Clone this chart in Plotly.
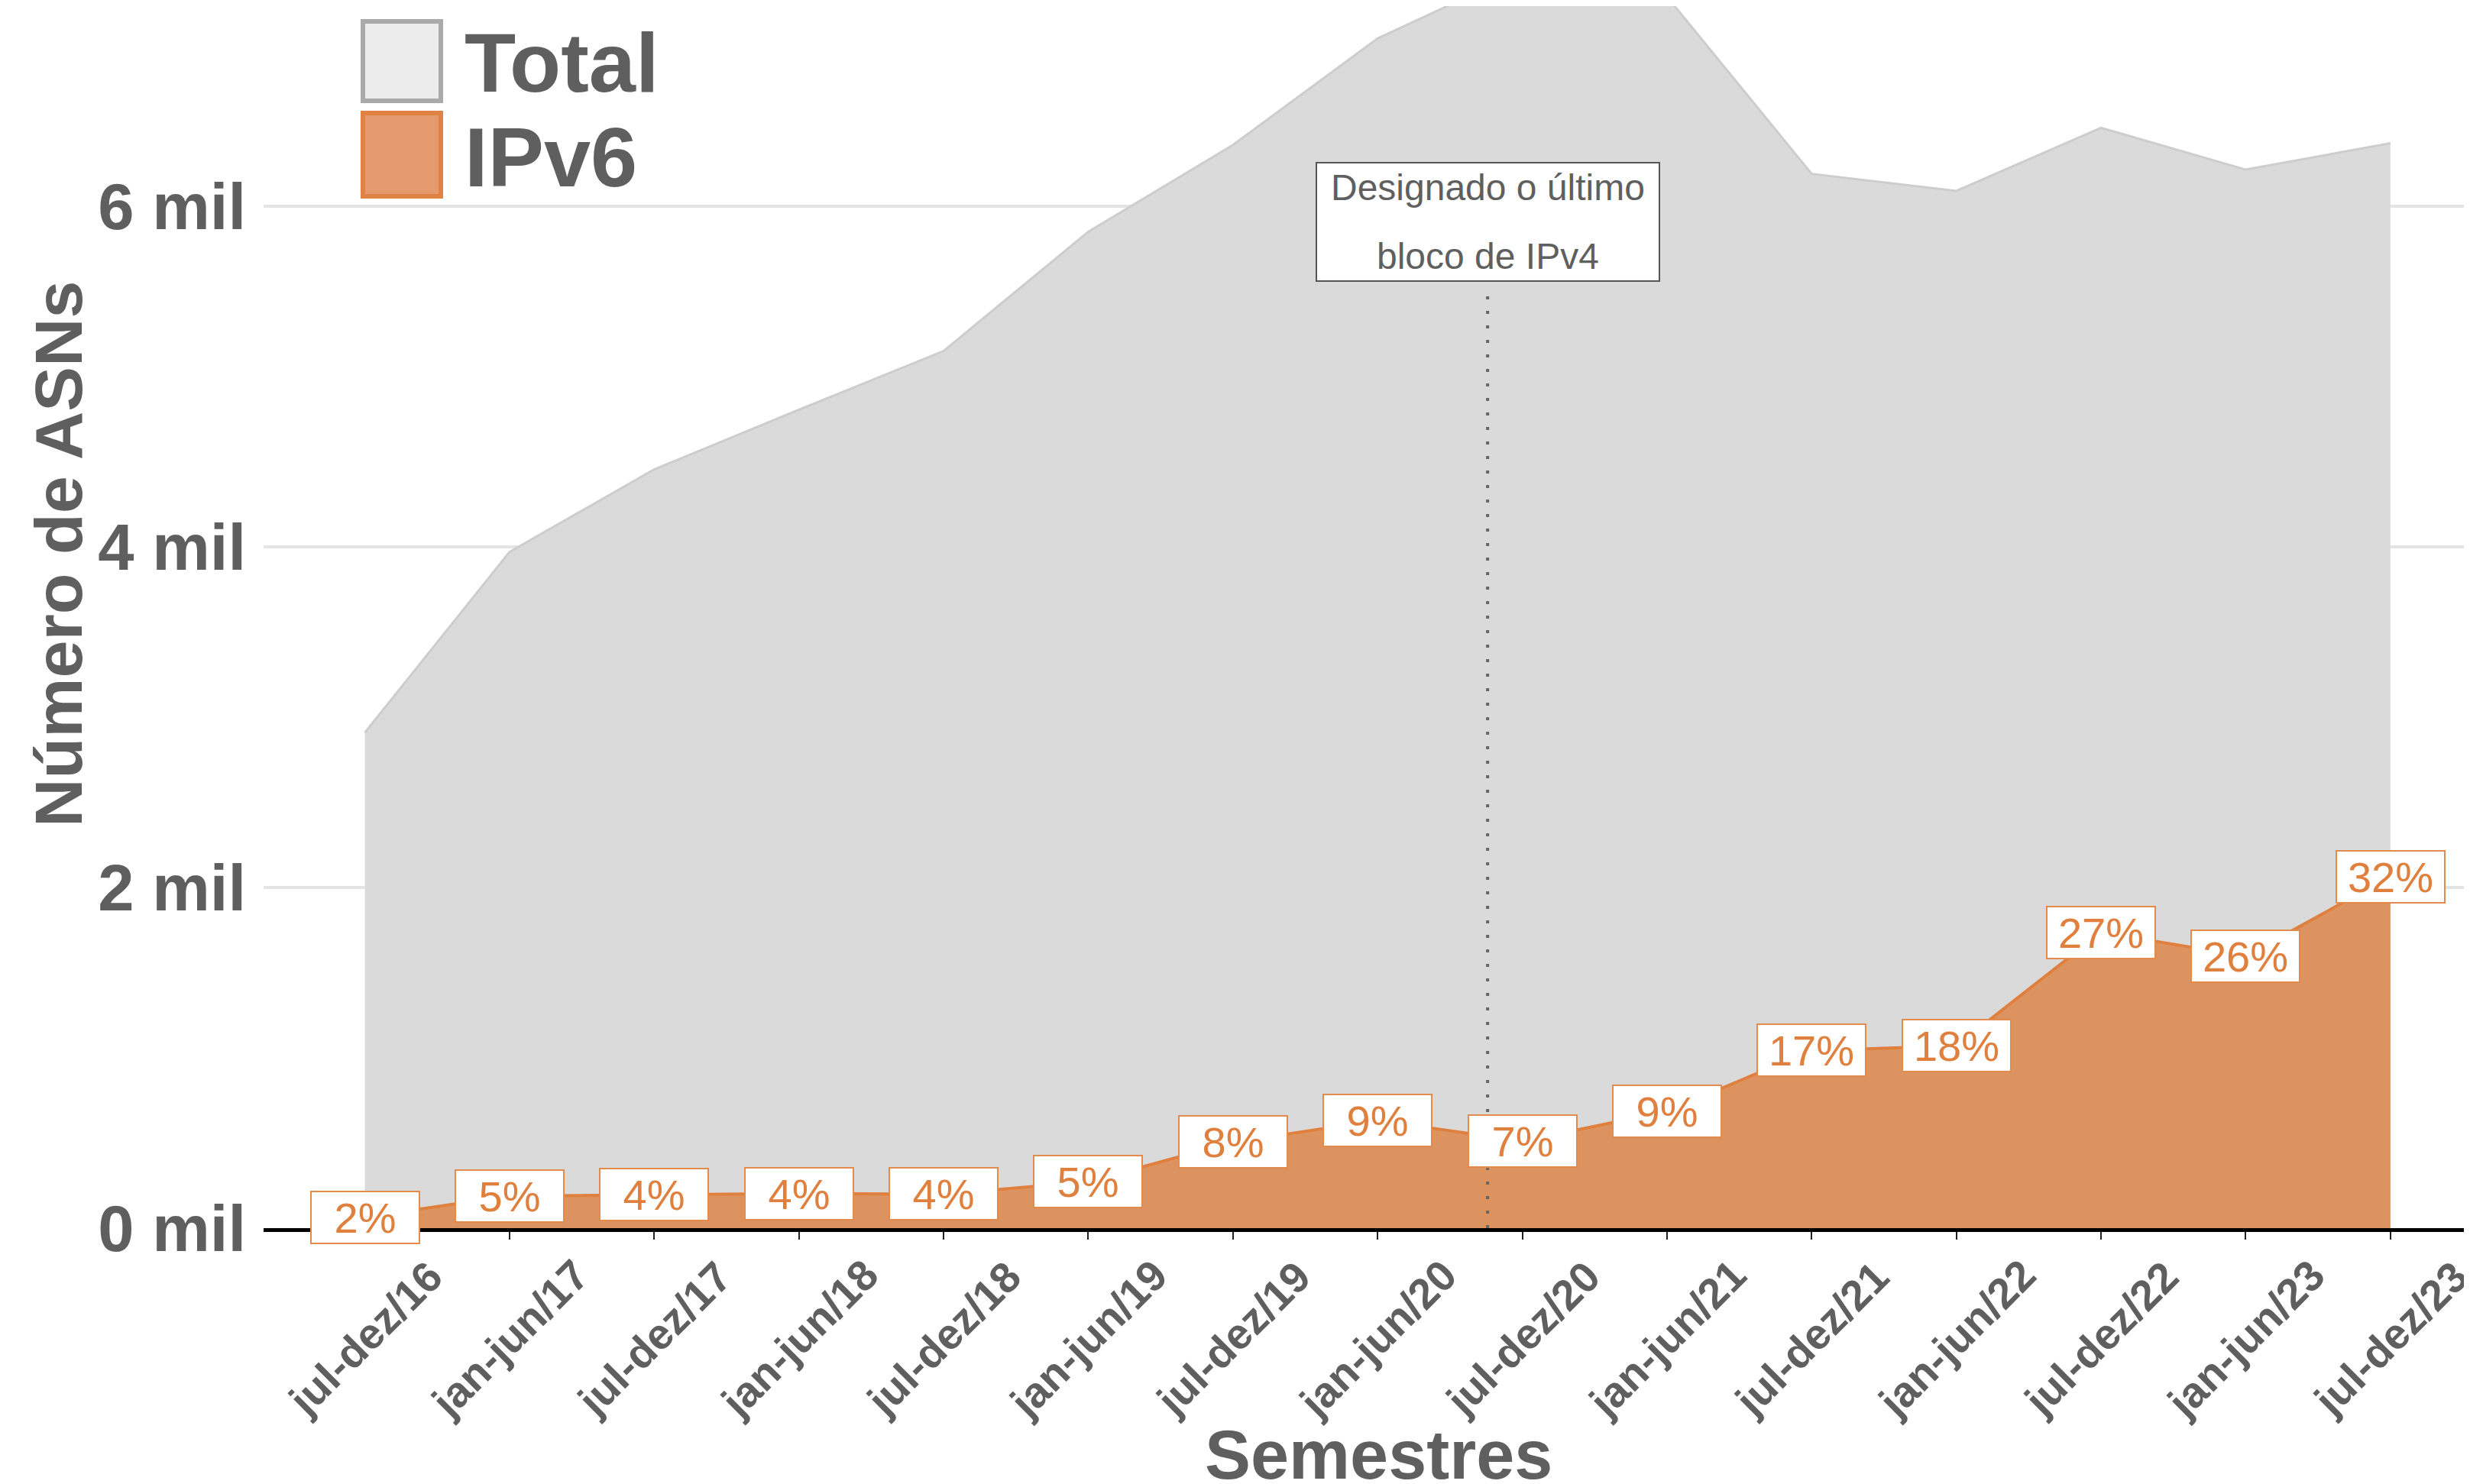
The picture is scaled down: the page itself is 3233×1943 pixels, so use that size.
import plotly.graph_objects as go

# ---------------- data ----------------
semestres = ["jul-dez/16", "jan-jun/17", "jul-dez/17", "jan-jun/18", "jul-dez/18",
             "jan-jun/19", "jul-dez/19", "jan-jun/20", "jul-dez/20", "jan-jun/21",
             "jul-dez/21", "jan-jun/22", "jul-dez/22", "jan-jun/23", "jul-dez/23"]
total = [2910, 3970, 4455, 4805, 5150, 5850, 6360, 6985, 7380, 7230,
         6190, 6090, 6460, 6215, 6370]
ipv6 = [65, 188, 196, 203, 200, 273, 505, 632, 511, 686,
        1043, 1070, 1736, 1597, 2065]
pct_labels = ["2%", "5%", "4%", "4%", "4%", "5%", "8%", "9%", "7%", "9%",
              "17%", "18%", "27%", "26%", "32%"]
y_tickvals = [0, 2000, 4000, 6000]
y_ticktext = ["0 mil", "2 mil", "4 mil", "6 mil"]
marker_x = 7.76                      # position between jan-jun/20 and jul-dez/20
marker_lines = ["Designado o último", "bloco de IPv4"]
marker_line_y = [6110, 5705]
marker_box_y = 5910
marker_line_top = 5500
legend_names = ["Total", "IPv6"]

# ---------------- geometry / style ----------------
PAGE_OFF = 8                      # default body margin of the html page
W, H = 3233 - PAGE_OFF, 1943 - PAGE_OFF
ML, MB = 345 - PAGE_OFF, 335
PW, PH = W - ML, H - MB
Y_MAX = 7175
X_RANGE = [-0.70, 14.55]
FONT = "Liberation Sans, Arial, sans-serif"
GREY_TXT = "#5f5f5f"
ORANGE = "#e0803f"


def px(x_page):
    return (x_page - PAGE_OFF - ML) / PW


def py(y_page):
    return (PH - (y_page - PAGE_OFF)) / PH


fig = go.Figure()
fig.add_trace(go.Scatter(
    x=semestres, y=total, mode="lines", fill="tozeroy", name=legend_names[0],
    line=dict(color="#cdcdcd", width=3), fillcolor="#dadada", showlegend=False,
    hoverinfo="skip"))
fig.add_trace(go.Scatter(
    x=semestres, y=ipv6, mode="lines", fill="tozeroy", name=legend_names[1],
    line=dict(color=ORANGE, width=4), fillcolor="#dd9360", showlegend=False,
    hoverinfo="skip"))

annotations = []
# percentage labels
for s, v, t in zip(semestres, ipv6, pct_labels):
    annotations.append(dict(
        x=s, y=v, xref="x", yref="y", text=t, showarrow=False,
        xanchor="center", yanchor="middle",
        font=dict(family=FONT, size=56, color=ORANGE),
        bgcolor="white", bordercolor="#e38b4c", borderwidth=2, borderpad=0,
        width=140, height=66))

# x tick labels (rotated around their centre)
for s in semestres:
    annotations.append(dict(
        x=s, y=0, xref="x", yref="paper", yshift=-144, text=s, showarrow=False,
        textangle=-45, xanchor="center", yanchor="middle",
        font=dict(family=FONT, size=56, color=GREY_TXT, weight="bold")))

# marker box
annotations.append(dict(
    x=marker_x, y=marker_box_y, xref="x", yref="y", text=" ", showarrow=False,
    xanchor="center", yanchor="middle", bgcolor="white", bordercolor="#555555",
    borderwidth=2, borderpad=0, width=447, height=153,
    font=dict(family=FONT, size=48, color=GREY_TXT)))
for txt, yy in zip(marker_lines, marker_line_y):
    annotations.append(dict(
        x=marker_x, y=yy, xref="x", yref="y", text=txt, showarrow=False,
        xanchor="center", yanchor="middle",
        font=dict(family=FONT, size=48, color=GREY_TXT)))

# axis titles
annotations.append(dict(
    x=px(76), y=py(725), xref="paper", yref="paper", text="Número de ASNs",
    showarrow=False, textangle=-90, xanchor="center", yanchor="middle",
    font=dict(family=FONT, size=88, color=GREY_TXT, weight="bold")))
annotations.append(dict(
    x=px(1804), y=py(1905), xref="paper", yref="paper", text="Semestres",
    showarrow=False, xanchor="center", yanchor="middle",
    font=dict(family=FONT, size=90, color=GREY_TXT, weight="bold")))

# legend
legend_rows = [
    dict(name=legend_names[0], y0=28, y1=132, fill="#ececec", line="#aaaaaa", ty=81),
    dict(name=legend_names[1], y0=148, y1=257, fill="#e49a6c", line="#df8243", ty=205),
]
shapes = []
for r in legend_rows:
    shapes.append(dict(type="rect", xref="paper", yref="paper",
                       x0=px(475), x1=px(577), y0=py(r["y1"]), y1=py(r["y0"]),
                       fillcolor=r["fill"], line=dict(color=r["line"], width=6),
                       layer="above"))
    annotations.append(dict(
        x=px(606), y=py(r["ty"]), xref="paper", yref="paper", text=r["name"],
        showarrow=False, xanchor="left", yanchor="middle",
        font=dict(family=FONT, size=110, color=GREY_TXT, weight="bold")))

# dotted vertical marker line
shapes.append(dict(type="line", xref="x", yref="y", x0=marker_x, x1=marker_x,
                   y0=0, y1=marker_line_top,
                   line=dict(color="#666666", width=4, dash="4px,15px"),
                   layer="above"))

fig.update_layout(
    width=W, height=H, margin=dict(l=ML, r=0, t=0, b=MB, pad=0),
    paper_bgcolor="white", plot_bgcolor="white",
    font=dict(family=FONT, color=GREY_TXT),
    showlegend=False,
    annotations=annotations, shapes=shapes,
    xaxis=dict(type="category", range=X_RANGE, showgrid=False,
               showticklabels=False, ticks="outside", ticklen=10, tickwidth=2,
               tickcolor="#222222", showline=True, linecolor="black",
               linewidth=5, zeroline=False, fixedrange=True),
    yaxis=dict(range=[0, Y_MAX], tickvals=y_tickvals, ticktext=y_ticktext,
               showgrid=True, gridcolor="#e4e4e4", gridwidth=4,
               zeroline=False, showline=False, ticks="",
               ticklabelstandoff=22,
               tickfont=dict(family=FONT, size=85, color=GREY_TXT, weight="bold"),
               fixedrange=True),
)

fig.write_html("out.html")
